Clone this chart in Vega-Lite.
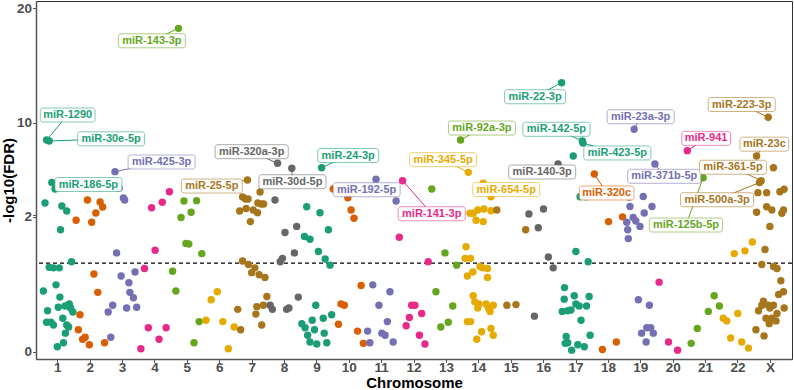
{
  "$schema": "https://vega.github.io/schema/vega-lite/v6.json",
  "width": 756,
  "height": 358,
  "autosize": "none",
  "padding": {"left": 36, "top": 1, "right": 2, "bottom": 31},
  "background": "white",
  "config": {
    "view": {"stroke": "#333333", "strokeWidth": 1},
    "font": "Liberation Sans",
    "axis": {
      "grid": false,
      "labelFont": "Liberation Sans",
      "labelFontWeight": "bold",
      "labelFontSize": 13.5,
      "labelColor": "#4D4D4D",
      "titleFont": "Liberation Sans",
      "titleFontWeight": "bold",
      "titleFontSize": 15,
      "titleColor": "#000000",
      "domainColor": "#555555",
      "domainWidth": 1.5,
      "tickColor": "#555555",
      "tickSize": 3.5,
      "labelOverlap": false,
      "labelFlush": false
    }
  },
  "datasets": {
    "mirs": [
      {"chr": "1", "pos": 0.67, "logfdr": 8.51, "mirna": "miR-1290", "lx": 1.32, "ly": 10.67},
      {"chr": "1", "pos": 0.75, "logfdr": 8.42, "mirna": "miR-30e-5p", "lx": 2.66, "ly": 8.61},
      {"chr": "1", "pos": 0.83, "logfdr": 4.84, "mirna": "miR-186-5p", "lx": 1.96, "ly": 4.67},
      {"chr": "1", "pos": 0.93, "logfdr": 4.28},
      {"chr": "1", "pos": 0.62, "logfdr": 3.08},
      {"chr": "1", "pos": 1.14, "logfdr": 2.82},
      {"chr": "1", "pos": 1.29, "logfdr": 2.39},
      {"chr": "1", "pos": 1.10, "logfdr": 1.79},
      {"chr": "1", "pos": 1.44, "logfdr": 1.32},
      {"chr": "1", "pos": 0.75, "logfdr": 1.24},
      {"chr": "1", "pos": 0.88, "logfdr": 1.23},
      {"chr": "1", "pos": 1.06, "logfdr": 1.23},
      {"chr": "1", "pos": 0.96, "logfdr": 0.98},
      {"chr": "1", "pos": 0.57, "logfdr": 0.89},
      {"chr": "1", "pos": 1.08, "logfdr": 0.80},
      {"chr": "1", "pos": 0.70, "logfdr": 0.60},
      {"chr": "1", "pos": 1.03, "logfdr": 0.65},
      {"chr": "1", "pos": 1.24, "logfdr": 0.67},
      {"chr": "1", "pos": 1.37, "logfdr": 0.70},
      {"chr": "1", "pos": 1.41, "logfdr": 0.64},
      {"chr": "1", "pos": 1.48, "logfdr": 0.58},
      {"chr": "1", "pos": 0.67, "logfdr": 0.43},
      {"chr": "1", "pos": 0.80, "logfdr": 0.43},
      {"chr": "1", "pos": 0.88, "logfdr": 0.39},
      {"chr": "1", "pos": 1.17, "logfdr": 0.49},
      {"chr": "1", "pos": 1.29, "logfdr": 0.39},
      {"chr": "1", "pos": 1.35, "logfdr": 0.36},
      {"chr": "1", "pos": 1.25, "logfdr": 0.27},
      {"chr": "1", "pos": 1.00, "logfdr": 0.07},
      {"chr": "1", "pos": 1.19, "logfdr": 0.13},

      {"chr": "2", "pos": 1.93, "logfdr": 3.34},
      {"chr": "2", "pos": 2.32, "logfdr": 3.16},
      {"chr": "2", "pos": 2.40, "logfdr": 2.73},
      {"chr": "2", "pos": 2.19, "logfdr": 2.22},
      {"chr": "2", "pos": 2.06, "logfdr": 1.90},
      {"chr": "2", "pos": 1.58, "logfdr": 1.93},
      {"chr": "2", "pos": 2.13, "logfdr": 1.14},
      {"chr": "2", "pos": 2.25, "logfdr": 0.87},
      {"chr": "2", "pos": 1.70, "logfdr": 0.54},
      {"chr": "2", "pos": 1.65, "logfdr": 0.32},
      {"chr": "2", "pos": 1.78, "logfdr": 0.18},
      {"chr": "2", "pos": 1.86, "logfdr": 0.21},
      {"chr": "2", "pos": 1.99, "logfdr": 0.10},
      {"chr": "2", "pos": 2.46, "logfdr": 0.13},

      {"chr": "3", "pos": 2.78, "logfdr": 5.78, "mirna": "miR-425-3p", "lx": 4.22, "ly": 6.61},
      {"chr": "3", "pos": 2.91, "logfdr": 4.37},
      {"chr": "3", "pos": 3.04, "logfdr": 3.51},
      {"chr": "3", "pos": 3.08, "logfdr": 3.34},
      {"chr": "3", "pos": 2.83, "logfdr": 1.45},
      {"chr": "3", "pos": 2.97, "logfdr": 1.11},
      {"chr": "3", "pos": 3.21, "logfdr": 1.01},
      {"chr": "3", "pos": 3.40, "logfdr": 1.17},
      {"chr": "3", "pos": 3.24, "logfdr": 0.87},
      {"chr": "3", "pos": 3.35, "logfdr": 0.79},
      {"chr": "3", "pos": 3.14, "logfdr": 0.64},
      {"chr": "3", "pos": 3.45, "logfdr": 0.65},
      {"chr": "3", "pos": 2.71, "logfdr": 0.68},
      {"chr": "3", "pos": 2.57, "logfdr": 0.58},
      {"chr": "3", "pos": 2.65, "logfdr": 0.21},

      {"chr": "4", "pos": 4.46, "logfdr": 4.05},
      {"chr": "4", "pos": 4.24, "logfdr": 3.14},
      {"chr": "4", "pos": 3.91, "logfdr": 2.67},
      {"chr": "4", "pos": 4.02, "logfdr": 1.49},
      {"chr": "4", "pos": 3.69, "logfdr": 1.22},
      {"chr": "4", "pos": 3.81, "logfdr": 0.35},
      {"chr": "4", "pos": 4.36, "logfdr": 0.35},
      {"chr": "4", "pos": 4.14, "logfdr": 0.18},
      {"chr": "4", "pos": 3.58, "logfdr": 0.04},

      {"chr": "5", "pos": 4.74, "logfdr": 18.25, "mirna": "miR-143-3p", "lx": 3.92, "ly": 17.16},
      {"chr": "5", "pos": 4.91, "logfdr": 3.25},
      {"chr": "5", "pos": 5.30, "logfdr": 3.28},
      {"chr": "5", "pos": 5.13, "logfdr": 2.28},
      {"chr": "5", "pos": 4.82, "logfdr": 1.97},
      {"chr": "5", "pos": 4.97, "logfdr": 1.59},
      {"chr": "5", "pos": 5.06, "logfdr": 1.58},
      {"chr": "5", "pos": 5.46, "logfdr": 1.44},
      {"chr": "5", "pos": 4.56, "logfdr": 1.18},
      {"chr": "5", "pos": 4.66, "logfdr": 0.89},
      {"chr": "5", "pos": 5.38, "logfdr": 0.44},
      {"chr": "5", "pos": 5.22, "logfdr": 0.13},

      {"chr": "6", "pos": 5.94, "logfdr": 0.88},
      {"chr": "6", "pos": 5.75, "logfdr": 0.76},
      {"chr": "6", "pos": 5.59, "logfdr": 0.46},
      {"chr": "6", "pos": 6.11, "logfdr": 0.44},
      {"chr": "6", "pos": 6.46, "logfdr": 0.36},
      {"chr": "6", "pos": 6.28, "logfdr": 0.04},

      {"chr": "7", "pos": 6.87, "logfdr": 5.06, "mirna": "miR-25-5p", "lx": 5.77, "ly": 4.54},
      {"chr": "7", "pos": 7.26, "logfdr": 4.03},
      {"chr": "7", "pos": 6.72, "logfdr": 3.59},
      {"chr": "7", "pos": 6.81, "logfdr": 3.42},
      {"chr": "7", "pos": 6.89, "logfdr": 3.42},
      {"chr": "7", "pos": 7.19, "logfdr": 3.08},
      {"chr": "7", "pos": 7.29, "logfdr": 2.99},
      {"chr": "7", "pos": 7.37, "logfdr": 2.99},
      {"chr": "7", "pos": 6.63, "logfdr": 2.39},
      {"chr": "7", "pos": 6.83, "logfdr": 2.60},
      {"chr": "7", "pos": 7.05, "logfdr": 2.47},
      {"chr": "7", "pos": 7.18, "logfdr": 2.24},
      {"chr": "7", "pos": 6.96, "logfdr": 1.91},
      {"chr": "7", "pos": 6.72, "logfdr": 1.33},
      {"chr": "7", "pos": 6.90, "logfdr": 1.28},
      {"chr": "7", "pos": 7.10, "logfdr": 1.23},
      {"chr": "7", "pos": 7.00, "logfdr": 1.16},
      {"chr": "7", "pos": 7.23, "logfdr": 1.13},
      {"chr": "7", "pos": 7.41, "logfdr": 1.09},
      {"chr": "7", "pos": 7.47, "logfdr": 0.81},
      {"chr": "7", "pos": 7.36, "logfdr": 0.68},
      {"chr": "7", "pos": 7.16, "logfdr": 0.66},
      {"chr": "7", "pos": 7.13, "logfdr": 0.55},
      {"chr": "7", "pos": 7.31, "logfdr": 0.39},
      {"chr": "7", "pos": 6.57, "logfdr": 0.62},
      {"chr": "7", "pos": 6.66, "logfdr": 0.32},

      {"chr": "8", "pos": 7.80, "logfdr": 6.50, "mirna": "miR-320a-3p", "lx": 7.00, "ly": 7.50},
      {"chr": "8", "pos": 8.24, "logfdr": 6.07, "mirna": "miR-30d-5p", "lx": 8.26, "ly": 4.91},
      {"chr": "8", "pos": 7.72, "logfdr": 3.34},
      {"chr": "8", "pos": 8.39, "logfdr": 1.84},
      {"chr": "8", "pos": 8.03, "logfdr": 1.75},
      {"chr": "8", "pos": 8.32, "logfdr": 1.45},
      {"chr": "8", "pos": 7.95, "logfdr": 1.37},
      {"chr": "8", "pos": 7.88, "logfdr": 1.32},
      {"chr": "8", "pos": 8.44, "logfdr": 0.80},
      {"chr": "8", "pos": 7.57, "logfdr": 0.68},
      {"chr": "8", "pos": 7.64, "logfdr": 0.62},
      {"chr": "8", "pos": 8.08, "logfdr": 0.62},
      {"chr": "8", "pos": 8.15, "logfdr": 0.64},

      {"chr": "9", "pos": 9.16, "logfdr": 6.12, "mirna": "miR-24-3p", "lx": 9.98, "ly": 7.17},
      {"chr": "9", "pos": 8.70, "logfdr": 2.76},
      {"chr": "9", "pos": 9.11, "logfdr": 2.24},
      {"chr": "9", "pos": 9.37, "logfdr": 1.79},
      {"chr": "9", "pos": 8.63, "logfdr": 1.69},
      {"chr": "9", "pos": 8.80, "logfdr": 1.65},
      {"chr": "9", "pos": 9.06, "logfdr": 1.47},
      {"chr": "9", "pos": 9.27, "logfdr": 1.36},
      {"chr": "9", "pos": 9.42, "logfdr": 1.27},
      {"chr": "9", "pos": 8.98, "logfdr": 0.68},
      {"chr": "9", "pos": 9.47, "logfdr": 0.54},
      {"chr": "9", "pos": 9.21, "logfdr": 0.49},
      {"chr": "9", "pos": 8.87, "logfdr": 0.46},
      {"chr": "9", "pos": 8.55, "logfdr": 0.41},
      {"chr": "9", "pos": 8.65, "logfdr": 0.35},
      {"chr": "9", "pos": 8.94, "logfdr": 0.32},
      {"chr": "9", "pos": 8.73, "logfdr": 0.24},
      {"chr": "9", "pos": 9.24, "logfdr": 0.27},
      {"chr": "9", "pos": 8.80, "logfdr": 0.14},
      {"chr": "9", "pos": 9.01, "logfdr": 0.11},
      {"chr": "9", "pos": 9.32, "logfdr": 0.13},

      {"chr": "10", "pos": 9.52, "logfdr": 4.28},
      {"chr": "10", "pos": 9.97, "logfdr": 3.53},
      {"chr": "10", "pos": 10.07, "logfdr": 2.47},
      {"chr": "10", "pos": 10.16, "logfdr": 1.96},
      {"chr": "10", "pos": 10.38, "logfdr": 0.97},
      {"chr": "10", "pos": 9.76, "logfdr": 0.70},
      {"chr": "10", "pos": 9.86, "logfdr": 0.68},
      {"chr": "10", "pos": 9.68, "logfdr": 0.40},
      {"chr": "10", "pos": 10.27, "logfdr": 0.30},
      {"chr": "10", "pos": 10.45, "logfdr": 0.12},

      {"chr": "11", "pos": 10.84, "logfdr": 5.12, "mirna": "miR-192-5p", "lx": 10.55, "ly": 4.22},
      {"chr": "11", "pos": 11.46, "logfdr": 3.25},
      {"chr": "11", "pos": 10.74, "logfdr": 0.98},
      {"chr": "11", "pos": 11.27, "logfdr": 0.88},
      {"chr": "11", "pos": 10.93, "logfdr": 0.68},
      {"chr": "11", "pos": 11.19, "logfdr": 0.44},
      {"chr": "11", "pos": 10.58, "logfdr": 0.30},
      {"chr": "11", "pos": 11.02, "logfdr": 0.27},
      {"chr": "11", "pos": 11.12, "logfdr": 0.24},
      {"chr": "11", "pos": 11.37, "logfdr": 0.14},
      {"chr": "11", "pos": 10.65, "logfdr": 0.13},

      {"chr": "12", "pos": 11.66, "logfdr": 5.00, "mirna": "miR-141-3p", "lx": 12.56, "ly": 2.15},
      {"chr": "12", "pos": 11.56, "logfdr": 1.68},
      {"chr": "12", "pos": 12.45, "logfdr": 1.32},
      {"chr": "12", "pos": 11.94, "logfdr": 0.68},
      {"chr": "12", "pos": 12.04, "logfdr": 0.68},
      {"chr": "12", "pos": 12.25, "logfdr": 0.56},
      {"chr": "12", "pos": 11.87, "logfdr": 0.50},
      {"chr": "12", "pos": 11.77, "logfdr": 0.38},
      {"chr": "12", "pos": 12.18, "logfdr": 0.24},
      {"chr": "12", "pos": 12.35, "logfdr": 0.11},

      {"chr": "13", "pos": 13.45, "logfdr": 8.51, "mirna": "miR-92a-3p", "lx": 14.11, "ly": 9.54},
      {"chr": "13", "pos": 12.56, "logfdr": 4.28},
      {"chr": "13", "pos": 12.97, "logfdr": 1.45},
      {"chr": "13", "pos": 13.33, "logfdr": 1.27},
      {"chr": "13", "pos": 12.69, "logfdr": 0.88},
      {"chr": "13", "pos": 13.21, "logfdr": 0.67},
      {"chr": "13", "pos": 13.07, "logfdr": 0.43},
      {"chr": "13", "pos": 12.84, "logfdr": 0.36},

      {"chr": "14", "pos": 13.69, "logfdr": 5.72, "mirna": "miR-345-5p", "lx": 12.91, "ly": 6.81},
      {"chr": "14", "pos": 14.15, "logfdr": 4.78, "mirna": "miR-654-5p", "lx": 14.86, "ly": 4.24},
      {"chr": "14", "pos": 14.39, "logfdr": 3.62},
      {"chr": "14", "pos": 13.74, "logfdr": 2.19},
      {"chr": "14", "pos": 13.84, "logfdr": 2.19},
      {"chr": "14", "pos": 13.98, "logfdr": 2.47},
      {"chr": "14", "pos": 14.17, "logfdr": 2.56},
      {"chr": "14", "pos": 14.39, "logfdr": 2.41},
      {"chr": "14", "pos": 13.93, "logfdr": 1.93},
      {"chr": "14", "pos": 14.15, "logfdr": 1.91},
      {"chr": "14", "pos": 13.62, "logfdr": 1.54},
      {"chr": "14", "pos": 13.59, "logfdr": 1.37},
      {"chr": "14", "pos": 13.76, "logfdr": 1.37},
      {"chr": "14", "pos": 13.83, "logfdr": 1.17},
      {"chr": "14", "pos": 13.66, "logfdr": 1.11},
      {"chr": "14", "pos": 14.05, "logfdr": 1.25},
      {"chr": "14", "pos": 14.13, "logfdr": 1.23},
      {"chr": "14", "pos": 14.28, "logfdr": 1.22},
      {"chr": "14", "pos": 14.28, "logfdr": 1.09},
      {"chr": "14", "pos": 13.84, "logfdr": 0.82},
      {"chr": "14", "pos": 13.89, "logfdr": 0.73},
      {"chr": "14", "pos": 14.02, "logfdr": 0.70},
      {"chr": "14", "pos": 14.24, "logfdr": 0.70},
      {"chr": "14", "pos": 14.46, "logfdr": 0.68},
      {"chr": "14", "pos": 13.98, "logfdr": 0.64},
      {"chr": "14", "pos": 14.31, "logfdr": 0.64},
      {"chr": "14", "pos": 14.36, "logfdr": 0.59},
      {"chr": "14", "pos": 13.66, "logfdr": 0.44},
      {"chr": "14", "pos": 13.76, "logfdr": 0.44},
      {"chr": "14", "pos": 14.39, "logfdr": 0.34},
      {"chr": "14", "pos": 14.10, "logfdr": 0.29},
      {"chr": "14", "pos": 14.46, "logfdr": 0.24},
      {"chr": "14", "pos": 13.95, "logfdr": 0.18},

      {"chr": "15", "pos": 14.57, "logfdr": 2.47},
      {"chr": "15", "pos": 15.46, "logfdr": 1.79},
      {"chr": "15", "pos": 14.88, "logfdr": 0.68},
      {"chr": "15", "pos": 15.16, "logfdr": 0.69},

      {"chr": "16", "pos": 16.46, "logfdr": 6.44, "mirna": "miR-140-3p", "lx": 15.97, "ly": 5.75},
      {"chr": "16", "pos": 16.01, "logfdr": 2.56},
      {"chr": "16", "pos": 15.56, "logfdr": 2.13},
      {"chr": "16", "pos": 15.85, "logfdr": 1.82},
      {"chr": "16", "pos": 16.16, "logfdr": 1.39},
      {"chr": "16", "pos": 16.31, "logfdr": 1.23},
      {"chr": "16", "pos": 15.73, "logfdr": 0.52},

      {"chr": "17", "pos": 16.57, "logfdr": 13.50, "mirna": "miR-22-3p", "lx": 15.75, "ly": 12.27},
      {"chr": "17", "pos": 17.21, "logfdr": 8.42, "mirna": "miR-142-5p", "lx": 16.41, "ly": 9.43},
      {"chr": "17", "pos": 17.23, "logfdr": 8.25, "mirna": "miR-423-5p", "lx": 18.29, "ly": 7.39},
      {"chr": "17", "pos": 16.93, "logfdr": 7.13},
      {"chr": "17", "pos": 17.14, "logfdr": 3.62},
      {"chr": "17", "pos": 17.32, "logfdr": 3.62},
      {"chr": "17", "pos": 17.01, "logfdr": 1.47},
      {"chr": "17", "pos": 17.39, "logfdr": 1.32},
      {"chr": "17", "pos": 16.66, "logfdr": 0.94},
      {"chr": "17", "pos": 16.96, "logfdr": 0.82},
      {"chr": "17", "pos": 16.65, "logfdr": 0.77},
      {"chr": "17", "pos": 17.42, "logfdr": 0.81},
      {"chr": "17", "pos": 17.01, "logfdr": 0.70},
      {"chr": "17", "pos": 17.11, "logfdr": 0.67},
      {"chr": "17", "pos": 17.34, "logfdr": 0.67},
      {"chr": "17", "pos": 16.86, "logfdr": 0.61},
      {"chr": "17", "pos": 16.76, "logfdr": 0.60},
      {"chr": "17", "pos": 16.59, "logfdr": 0.59},
      {"chr": "17", "pos": 17.17, "logfdr": 0.46},
      {"chr": "17", "pos": 16.71, "logfdr": 0.22},
      {"chr": "17", "pos": 16.76, "logfdr": 0.13},
      {"chr": "17", "pos": 16.88, "logfdr": 0.02},
      {"chr": "17", "pos": 17.07, "logfdr": 0.10},
      {"chr": "17", "pos": 17.27, "logfdr": 0.07},
      {"chr": "17", "pos": 17.45, "logfdr": 0.24},
      {"chr": "17", "pos": 16.68, "logfdr": 0.12},

      {"chr": "18", "pos": 17.58, "logfdr": 5.58, "mirna": "miR-320c", "lx": 17.96, "ly": 3.94},
      {"chr": "18", "pos": 18.02, "logfdr": 1.91},
      {"chr": "18", "pos": 18.45, "logfdr": 1.98},
      {"chr": "18", "pos": 17.83, "logfdr": 0.03},
      {"chr": "18", "pos": 18.26, "logfdr": 0.14},

      {"chr": "19", "pos": 18.81, "logfdr": 9.43, "mirna": "miR-23a-3p", "lx": 19.01, "ly": 10.52},
      {"chr": "19", "pos": 19.45, "logfdr": 6.44, "mirna": "miR-371b-5p", "lx": 19.74, "ly": 5.38},
      {"chr": "19", "pos": 19.09, "logfdr": 3.64},
      {"chr": "19", "pos": 19.36, "logfdr": 2.78},
      {"chr": "19", "pos": 19.12, "logfdr": 2.22},
      {"chr": "19", "pos": 18.65, "logfdr": 3.59},
      {"chr": "19", "pos": 18.68, "logfdr": 2.78},
      {"chr": "19", "pos": 18.78, "logfdr": 1.97},
      {"chr": "19", "pos": 18.86, "logfdr": 1.92},
      {"chr": "19", "pos": 18.99, "logfdr": 1.84},
      {"chr": "19", "pos": 18.58, "logfdr": 1.90},
      {"chr": "19", "pos": 18.61, "logfdr": 1.79},
      {"chr": "19", "pos": 18.63, "logfdr": 1.66},
      {"chr": "19", "pos": 18.94, "logfdr": 0.76},
      {"chr": "19", "pos": 19.28, "logfdr": 0.68},
      {"chr": "19", "pos": 19.20, "logfdr": 0.35},
      {"chr": "19", "pos": 19.32, "logfdr": 0.35},
      {"chr": "19", "pos": 19.04, "logfdr": 0.27},
      {"chr": "19", "pos": 19.40, "logfdr": 0.27},
      {"chr": "19", "pos": 19.18, "logfdr": 0.14},

      {"chr": "20", "pos": 20.45, "logfdr": 7.59, "mirna": "miR-941", "lx": 21.03, "ly": 8.65},
      {"chr": "20", "pos": 19.58, "logfdr": 1.02},
      {"chr": "20", "pos": 19.87, "logfdr": 0.14},
      {"chr": "20", "pos": 20.15, "logfdr": 0.02},

      {"chr": "21", "pos": 20.94, "logfdr": 5.26, "mirna": "miR-125b-5p", "lx": 20.41, "ly": 1.86},
      {"chr": "21", "pos": 21.28, "logfdr": 0.82},
      {"chr": "21", "pos": 21.44, "logfdr": 0.67},
      {"chr": "21", "pos": 21.10, "logfdr": 0.59},
      {"chr": "21", "pos": 20.76, "logfdr": 0.34},
      {"chr": "21", "pos": 20.57, "logfdr": 0.12},

      {"chr": "22", "pos": 22.46, "logfdr": 1.61},
      {"chr": "22", "pos": 22.23, "logfdr": 1.48},
      {"chr": "22", "pos": 21.90, "logfdr": 1.44},
      {"chr": "22", "pos": 22.01, "logfdr": 0.56},
      {"chr": "22", "pos": 21.56, "logfdr": 0.49},
      {"chr": "22", "pos": 21.67, "logfdr": 0.45},
      {"chr": "22", "pos": 21.79, "logfdr": 0.20},
      {"chr": "22", "pos": 22.13, "logfdr": 0.14},
      {"chr": "22", "pos": 22.34, "logfdr": 0.05},

      {"chr": "X", "pos": 22.95, "logfdr": 10.47, "mirna": "miR-223-3p", "lx": 22.13, "ly": 11.59},
      {"chr": "X", "pos": 22.59, "logfdr": 7.13, "mirna": "miR-23c", "lx": 22.83, "ly": 8.15},
      {"chr": "X", "pos": 23.11, "logfdr": 6.12},
      {"chr": "X", "pos": 22.73, "logfdr": 5.00, "mirna": "miR-361-5p", "lx": 21.86, "ly": 6.16},
      {"chr": "X", "pos": 22.68, "logfdr": 4.84, "mirna": "miR-500a-3p", "lx": 21.37, "ly": 3.36},
      {"chr": "X", "pos": 22.63, "logfdr": 3.97},
      {"chr": "X", "pos": 22.90, "logfdr": 3.97},
      {"chr": "X", "pos": 23.31, "logfdr": 4.05},
      {"chr": "X", "pos": 23.44, "logfdr": 4.26},
      {"chr": "X", "pos": 22.59, "logfdr": 2.28},
      {"chr": "X", "pos": 22.90, "logfdr": 2.76},
      {"chr": "X", "pos": 23.06, "logfdr": 2.47},
      {"chr": "X", "pos": 23.42, "logfdr": 2.47},
      {"chr": "X", "pos": 23.37, "logfdr": 2.19},
      {"chr": "X", "pos": 23.00, "logfdr": 1.84},
      {"chr": "X", "pos": 22.85, "logfdr": 1.50},
      {"chr": "X", "pos": 22.75, "logfdr": 1.28},
      {"chr": "X", "pos": 23.11, "logfdr": 1.25},
      {"chr": "X", "pos": 23.22, "logfdr": 1.22},
      {"chr": "X", "pos": 23.34, "logfdr": 1.04},
      {"chr": "X", "pos": 23.42, "logfdr": 0.88},
      {"chr": "X", "pos": 23.27, "logfdr": 0.84},
      {"chr": "X", "pos": 22.80, "logfdr": 0.74},
      {"chr": "X", "pos": 22.75, "logfdr": 0.68},
      {"chr": "X", "pos": 22.95, "logfdr": 0.68},
      {"chr": "X", "pos": 23.11, "logfdr": 0.68},
      {"chr": "X", "pos": 22.65, "logfdr": 0.60},
      {"chr": "X", "pos": 23.00, "logfdr": 0.64},
      {"chr": "X", "pos": 23.22, "logfdr": 0.56},
      {"chr": "X", "pos": 23.44, "logfdr": 0.64},
      {"chr": "X", "pos": 22.88, "logfdr": 0.49},
      {"chr": "X", "pos": 23.06, "logfdr": 0.49},
      {"chr": "X", "pos": 23.19, "logfdr": 0.45},
      {"chr": "X", "pos": 22.98, "logfdr": 0.41},
      {"chr": "X", "pos": 22.57, "logfdr": 0.32},
      {"chr": "X", "pos": 22.82, "logfdr": 0.23}
    ],
    "cutoff": [{"fdr": 0.05, "neglog": 1.301}]
  },
  "encoding": {
    "x": {
      "field": "pos",
      "type": "quantitative",
      "title": "Chromosome",
      "scale": {"domain": [0.342, 23.683], "nice": false, "zero": false},
      "axis": {
        "values": [1, 2, 3, 4, 5, 6, 7, 8, 9, 10, 11, 12, 13, 14, 15, 16, 17, 18, 19, 20, 21, 22, 23],
        "labelExpr": "datum.value == 23 ? 'X' : datum.label",
        "labelPadding": -2,
        "titlePadding": 1
      }
    },
    "y": {
      "field": "logfdr",
      "type": "quantitative",
      "title": "-log10(FDR)",
      "scale": {"domain": [-0.11, 2, 10, 20.64], "range": [358, 214.5, 121.7, 0], "nice": false, "zero": false},
      "axis": {
        "values": [0, 1.978, 2.022, 10, 20],
        "labelExpr": "datum.value > 1.9 && datum.value < 1.99 ? '2' : (datum.value > 2 && datum.value < 2.1 ? '' : datum.label)",
        "labelPadding": 1,
        "titlePadding": 0
      }
    },
    "color": {
      "field": "chr",
      "type": "nominal",
      "legend": null,
      "scale": {
        "domain": ["1", "2", "3", "4", "5", "6", "7", "8", "9", "10", "11", "12", "13", "14", "15", "16", "17", "18", "19", "20", "21", "22", "X"],
        "range": ["#1B9E77", "#D95F02", "#7570B3", "#E7298A", "#66A61E", "#E6AB02", "#A6761D", "#666666", "#1B9E77", "#D95F02", "#7570B3", "#E7298A", "#66A61E", "#E6AB02", "#A6761D", "#666666", "#1B9E77", "#D95F02", "#7570B3", "#E7298A", "#66A61E", "#E6AB02", "#A6761D"]
      }
    }
  },
  "layer": [
    {
      "data": {"name": "cutoff"},
      "mark": {"type": "rule", "color": "#000000", "strokeDash": [4, 3], "strokeWidth": 1.2},
      "encoding": {
        "x": null,
        "color": null,
        "y": {"field": "neglog", "type": "quantitative"}
      }
    },
    {
      "data": {"name": "mirs"},
      "mark": {"type": "circle", "size": 55, "opacity": 1}
    },
    {
      "data": {"name": "mirs"},
      "transform": [{"filter": "isValid(datum.mirna)"}],
      "mark": {"type": "rule", "strokeWidth": 1},
      "encoding": {
        "x2": {"field": "lx"},
        "y2": {"field": "ly"}
      }
    },
    {
      "data": {"name": "mirs"},
      "transform": [{"filter": "isValid(datum.mirna)"}],
      "mark": {
        "type": "rect",
        "fill": "white",
        "fillOpacity": 0.92,
        "strokeWidth": 1,
        "strokeOpacity": 0.55,
        "cornerRadius": 2.5,
        "xOffset": {"expr": "-3.05 * length(datum.mirna) - 3"},
        "x2Offset": {"expr": "3.05 * length(datum.mirna) + 3"},
        "yOffset": -7,
        "y2Offset": 7
      },
      "encoding": {
        "x": {"field": "lx", "type": "quantitative"},
        "x2": {"field": "lx"},
        "y": {"field": "ly", "type": "quantitative"},
        "y2": {"field": "ly"},
        "color": null,
        "stroke": {
          "field": "chr",
          "type": "nominal",
          "legend": null,
          "scale": {
            "domain": ["1", "2", "3", "4", "5", "6", "7", "8", "9", "10", "11", "12", "13", "14", "15", "16", "17", "18", "19", "20", "21", "22", "X"],
            "range": ["#1B9E77", "#D95F02", "#7570B3", "#E7298A", "#66A61E", "#E6AB02", "#A6761D", "#666666", "#1B9E77", "#D95F02", "#7570B3", "#E7298A", "#66A61E", "#E6AB02", "#A6761D", "#666666", "#1B9E77", "#D95F02", "#7570B3", "#E7298A", "#66A61E", "#E6AB02", "#A6761D"]
          }
        }
      }
    },
    {
      "data": {"name": "mirs"},
      "transform": [{"filter": "isValid(datum.mirna)"}],
      "mark": {"type": "text", "font": "Liberation Sans", "fontWeight": "bold", "fontSize": 11, "align": "center", "baseline": "middle"},
      "encoding": {
        "x": {"field": "lx", "type": "quantitative"},
        "y": {"field": "ly", "type": "quantitative"},
        "text": {"field": "mirna"}
      }
    }
  ]
}
